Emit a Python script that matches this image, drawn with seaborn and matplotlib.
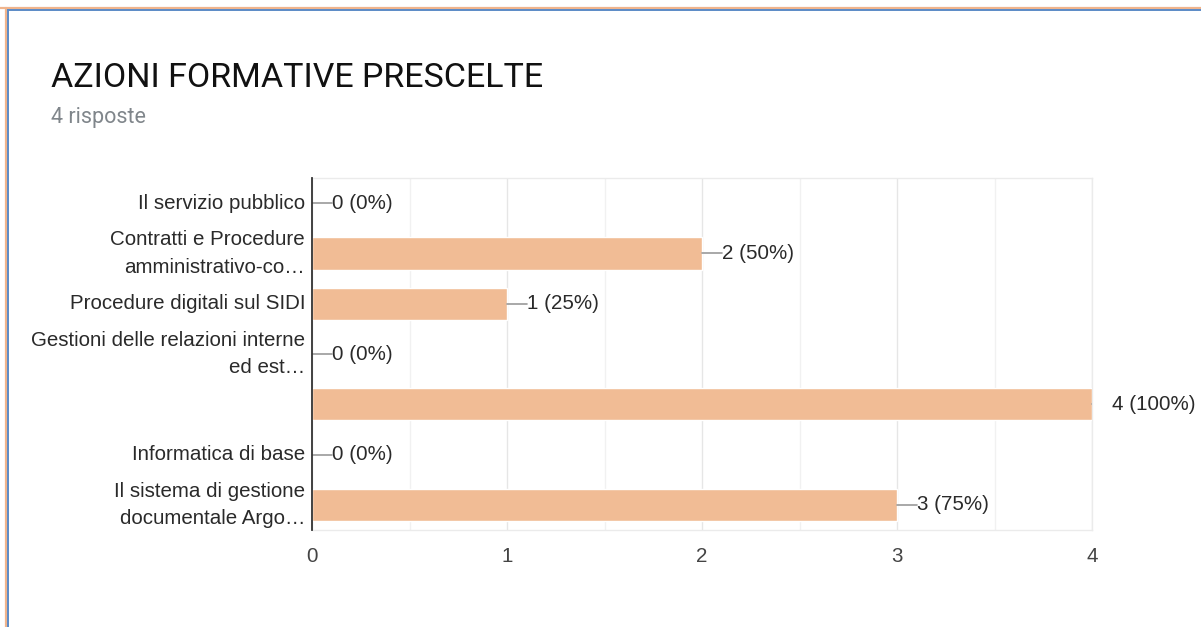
import matplotlib
matplotlib.use("Agg")
import matplotlib.pyplot as plt
from matplotlib.lines import Line2D
from matplotlib.ticker import MultipleLocator
import seaborn as sns
import pandas as pd

categories = [
    "Il servizio pubblico",
    "Contratti e Procedure\namministrativo-co…",
    "Procedure digitali sul SIDI",
    "Gestioni delle relazioni interne\ned est…",
    "",
    "Informatica di base",
    "Il sistema di gestione\ndocumentale Argo…",
]
counts = [0, 2, 1, 0, 4, 0, 3]
percents = [0, 50, 25, 0, 100, 0, 75]
x_ticks = [0, 1, 2, 3, 4]

title = "AZIONI FORMATIVE PRESCELTE"
subtitle = "4 risposte"

sns.set_theme(style="white")
plt.rcParams["font.family"] = ["Liberation Sans", "DejaVu Sans"]

df = pd.DataFrame({"cat": [f"c{i}" for i in range(len(categories))], "count": counts})

fig = plt.figure(figsize=(12.01, 6.27), dpi=100)
W, H = 1201, 627
ax = fig.add_axes([312 / W, 1 - 530 / H, (1092 - 312) / W, (530 - 178) / H])

sns.barplot(data=df, y="cat", x="count", orient="h", color="#f1bc95",
            saturation=1, width=0.64, ax=ax, zorder=3)

n = len(categories)
ax.set_ylim(n - 0.5, -0.5)
ax.set_xlim(0, 4)
ax.set_xticks(x_ticks)
ax.xaxis.set_minor_locator(MultipleLocator(0.5))
ax.grid(True, axis="x", which="major", color="#e6e6e6", lw=1, zorder=0)
ax.grid(True, axis="x", which="minor", color="#f1f1f1", lw=1, zorder=0)
ax.set_yticks(range(n))
ax.set_yticklabels(categories, linespacing=1.55)
ax.set_xlabel("")
ax.set_ylabel("")

for s in ["top", "right", "bottom"]:
    ax.spines[s].set_color("#ebebeb")
    ax.spines[s].set_linewidth(1)
ax.spines["left"].set_color("#333333")
ax.spines["left"].set_linewidth(1.3)
ax.spines["left"].set_zorder(5)

FS = 14.8
ax.tick_params(axis="y", length=0, pad=5, labelsize=FS, labelcolor="#2a2a2a")
ax.tick_params(axis="x", which="both", length=0, pad=12, labelsize=FS, labelcolor="#444444")
for t in ax.get_yticklabels():
    t.set_verticalalignment("center")

for i, (c, p) in enumerate(zip(counts, percents)):
    ax.plot([c, c + 0.1], [i, i], color="#999999", lw=1.2, zorder=4, clip_on=True)
    ax.text(c + 0.105, i, f"{c} ({p}%)", va="center", ha="left",
            fontsize=FS, color="#2a2a2a", clip_on=False)

fig.text(51 / W, 1 - 87 / H, title, fontsize=24.5, color="#111111",
         family=["Roboto", "DejaVu Sans"], va="baseline", ha="left")
fig.text(51 / W, 1 - 123 / H, subtitle, fontsize=15.5, color="#80868b",
         family=["Roboto", "DejaVu Sans"], va="baseline", ha="left")

# frame lines
fig.add_artist(Line2D([0, 1], [1 - 7.5 / H, 1 - 7.5 / H], color="#f0b48c", lw=1.6, transform=fig.transFigure))
fig.add_artist(Line2D([5.5 / W, 1], [1 - 9.5 / H, 1 - 9.5 / H], color="#5b8ac6", lw=1.4, transform=fig.transFigure))
fig.add_artist(Line2D([5.5 / W, 5.5 / W], [0, 1 - 7.5 / H], color="#f0b48c", lw=1.6, transform=fig.transFigure))
fig.add_artist(Line2D([7.5 / W, 7.5 / W], [0, 1 - 9.5 / H], color="#5b8ac6", lw=1.4, transform=fig.transFigure))

fig.savefig("out.png", dpi=100, facecolor="white")
